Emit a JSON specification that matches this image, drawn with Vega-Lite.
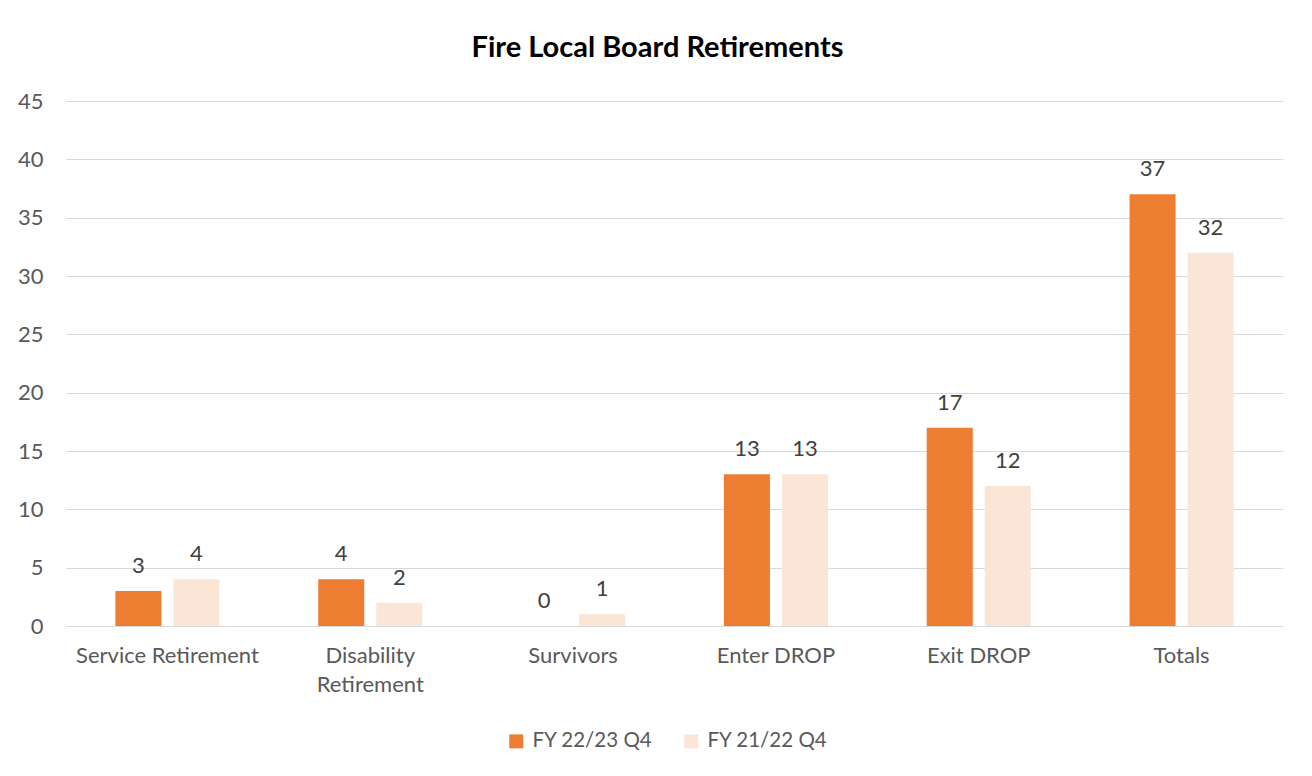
{
  "$schema": "https://vega.github.io/schema/vega-lite/v6.json",
  "width": 1217,
  "height": 525,
  "autosize": {"type": "none"},
  "padding": {"left": 66, "top": 101, "right": 29, "bottom": 150},
  "background": "white",
  "title": {
    "text": "Fire Local Board Retirements",
    "font": "Lato",
    "fontSize": 29,
    "fontWeight": "bold",
    "color": "#000000",
    "anchor": "middle",
    "frame": "group",
    "dx": -17,
    "offset": 27
  },
  "data": {
    "values": [
      {"category": "Service Retirement", "series": "FY 22/23 Q4", "value": 3},
      {"category": "Service Retirement", "series": "FY 21/22 Q4", "value": 4},
      {"category": "Disability Retirement", "series": "FY 22/23 Q4", "value": 4},
      {"category": "Disability Retirement", "series": "FY 21/22 Q4", "value": 2},
      {"category": "Survivors", "series": "FY 22/23 Q4", "value": 0},
      {"category": "Survivors", "series": "FY 21/22 Q4", "value": 1},
      {"category": "Enter DROP", "series": "FY 22/23 Q4", "value": 13},
      {"category": "Enter DROP", "series": "FY 21/22 Q4", "value": 13},
      {"category": "Exit DROP", "series": "FY 22/23 Q4", "value": 17},
      {"category": "Exit DROP", "series": "FY 21/22 Q4", "value": 12},
      {"category": "Totals", "series": "FY 22/23 Q4", "value": 37},
      {"category": "Totals", "series": "FY 21/22 Q4", "value": 32}
    ]
  },
  "encoding": {
    "x": {
      "field": "category",
      "type": "nominal",
      "sort": null,
      "title": null,
      "scale": {"paddingInner": 0.487, "paddingOuter": 0.2435},
      "axis": {
        "domain": true,
        "domainColor": "#D9D9D9",
        "ticks": false,
        "labelAngle": 0,
        "labelFont": "Lato",
        "labelFontSize": 22,
        "labelColor": "#595959",
        "labelPadding": 19,
        "labelBaseline": "top",
        "labelLineHeight": 29,
        "labelLimit": 400,
        "labelExpr": "datum.label == 'Disability Retirement' ? ['Disability', 'Retirement'] : datum.label"
      }
    },
    "xOffset": {
      "field": "series",
      "type": "nominal",
      "sort": ["FY 22/23 Q4", "FY 21/22 Q4"],
      "scale": {"paddingInner": 0.207, "paddingOuter": 0}
    },
    "y": {
      "field": "value",
      "type": "quantitative",
      "title": null,
      "scale": {"domain": [0, 45], "nice": false},
      "axis": {
        "values": [0, 5, 10, 15, 20, 25, 30, 35, 40, 45],
        "domain": false,
        "ticks": false,
        "grid": true,
        "gridColor": "#D9D9D9",
        "gridWidth": 1,
        "labelFont": "Lato",
        "labelFontSize": 22,
        "labelColor": "#595959",
        "labelPadding": 23
      }
    }
  },
  "layer": [
    {
      "mark": {"type": "bar"},
      "encoding": {
        "color": {
          "field": "series",
          "type": "nominal",
          "sort": ["FY 22/23 Q4", "FY 21/22 Q4"],
          "scale": {"domain": ["FY 22/23 Q4", "FY 21/22 Q4"], "range": ["#ED7D31", "#FBE5D6"]},
          "legend": {
            "title": null,
            "orient": "none",
            "direction": "horizontal",
            "legendX": 440,
            "legendY": 630,
            "padding": 0,
            "symbolType": "square",
            "symbolSize": 196,
            "symbolStrokeWidth": 0,
            "labelFont": "Lato",
            "labelFontSize": 20.5,
            "labelColor": "#595959",
            "labelOffset": 6,
            "columnPadding": 28
          }
        }
      }
    },
    {
      "mark": {"type": "text", "baseline": "alphabetic", "dy": -18, "font": "Lato", "fontSize": 22, "color": "#404040"},
      "encoding": {
        "text": {"field": "value", "type": "quantitative"}
      }
    }
  ],
  "config": {
    "view": {"stroke": null}
  }
}
